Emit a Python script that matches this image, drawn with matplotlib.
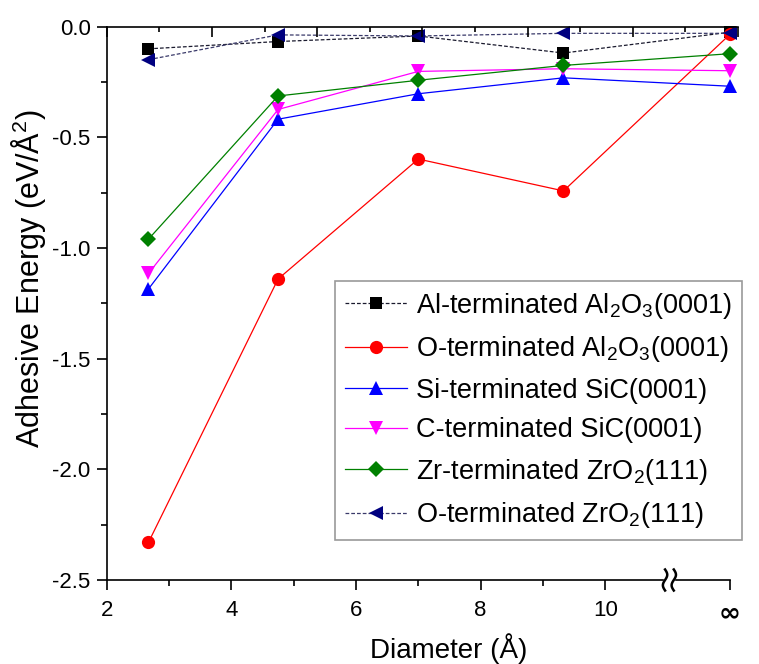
import numpy as np
import matplotlib
matplotlib.use("Agg")
import matplotlib.pyplot as plt
import matplotlib.transforms as mtransforms

plt.rcParams['font.family'] = ['Liberation Sans', 'DejaVu Sans']
plt.rcParams['mathtext.fontset'] = 'custom'
plt.rcParams['mathtext.rm'] = 'Liberation Sans'
plt.rcParams['mathtext.it'] = 'Liberation Sans:italic'
plt.rcParams['mathtext.bf'] = 'Liberation Sans:bold'

# ---- data ----
diameter = [2.67, 4.75, 7.0, 9.33, 12.0]   # last point is "infinity"
al_term_al2o3 = [-0.10, -0.067, -0.042, -0.119, -0.025]
o_term_al2o3 = [-2.33, -1.14, -0.598, -0.742, -0.035]
si_term_sic = [-1.185, -0.418, -0.303, -0.231, -0.269]
c_term_sic = [-1.115, -0.374, -0.202, -0.19, -0.199]
zr_term_zro2 = [-0.96, -0.313, -0.242, -0.175, -0.122]
o_term_zro2 = [-0.149, -0.037, -0.042, -0.030, -0.030]

labels = ['Al-terminated Al$_2$O$_3$(0001)',
          'O-terminated Al$_2$O$_3$(0001)',
          'Si-terminated SiC(0001)',
          'C-terminated SiC(0001)',
          'Zr-terminated ZrO$_2$(111)',
          'O-terminated ZrO$_2$(111)']
x_ticks = [2, 4, 6, 8, 10, 12]
x_ticklabels = ['2', '4', '6', '8', '10', '∞']

fig = plt.figure(figsize=(7.59, 6.64), dpi=100)
ax = fig.add_axes([0.1406, 0.1265, 0.9723 - 0.1406, 0.9598 - 0.1265])

series = [al_term_al2o3, o_term_al2o3, si_term_sic, c_term_sic, zr_term_zro2, o_term_zro2]
colors = ['#000000', '#FF0000', '#0000FF', '#FF00FF', '#008000', '#000080']
markers = ['s', 'o', '^', 'v', 'D', '<']
msizes = [8, 9.5, 10, 10, 8, 10]
styles = ['dash', 'solid', 'solid', 'solid', 'solid', 'dash']

for ys, c, m, ms, st, lab in zip(series, colors, markers, msizes, styles, labels):
    line, = ax.plot(diameter, ys, color=c, marker=m, markersize=ms, lw=0.9,
                    label=lab, clip_on=False, markeredgewidth=0)
    if st == 'dash':
        line.set_color('#1a1a2e' if c == '#000000' else '#3a3a6a')
        line.set_markerfacecolor(c)
        line.set_dashes((3, 1.6))

ax.set_xlim(2, 12.13)
ax.set_ylim(-2.5, 0)

ax.spines['right'].set_visible(False)
ax.spines['bottom'].set_bounds(2, 12)
for s in ['left', 'bottom', 'top']:
    ax.spines[s].set_linewidth(1.2)

ax.set_xticks(x_ticks)
ax.set_xticklabels(x_ticklabels)
ax.set_xticks([3, 5, 7, 9], minor=True)
ax.set_yticks([0, -0.5, -1.0, -1.5, -2.0, -2.5])
ax.set_yticks([-0.25, -0.75, -1.25, -1.75, -2.25], minor=True)
ax.yaxis.set_major_formatter(matplotlib.ticker.FormatStrFormatter('%.1f'))
ax.tick_params(axis='both', which='major', direction='out', length=7.5, width=1.2,
               labelsize=16, top=False, right=False)
ax.tick_params(axis='both', which='minor', direction='out', length=4, width=1.2,
               top=False, right=False)
ax.tick_params(axis='x', pad=7)
ax.tick_params(axis='y', pad=4)
inf_lab = ax.get_xticklabels()[-1]
inf_lab.set_fontfamily('DejaVu Sans')
inf_lab.set_fontweight('bold')
inf_lab.set_fontsize(19)

# top axis ticks
ax2 = ax.twiny()
ax2.set_xlim(ax.get_xlim())
top_pos = np.linspace(2, 12.13, 13)
ax2.set_xticks(top_pos[::2])
ax2.set_xticks(top_pos[1::2], minor=True)
ax2.tick_params(axis='x', which='major', direction='in', length=7.5, width=1.2,
                labeltop=False, top=True, bottom=False)
ax2.tick_params(axis='x', which='minor', direction='in', length=3.5, width=1.2,
                top=True, bottom=False)
for s in ax2.spines.values():
    s.set_visible(False)

ax.set_xlabel('Diameter (Å)', fontsize=20)
ax.xaxis.set_label_coords(0.541, -0.096)
ax.set_ylabel('Adhesive Energy (eV/Å$^2$)', fontsize=22)
ax.yaxis.set_label_coords(-0.093, 0.545)

# axis break symbol on bottom axis
trans = mtransforms.blended_transform_factory(ax.transData, ax.transAxes)
t = np.linspace(-1, 1, 40)
ax.add_patch(plt.Rectangle((10.95, -0.004), 0.16, 0.008, transform=trans,
                           color='white', clip_on=False, zorder=5))
for x0 in (10.96, 11.10):
    ax.plot(x0 + 0.035 * np.sin(np.pi * t), t * 0.019, color='black', lw=1.8,
            transform=trans, clip_on=False, zorder=6)

leg = ax.legend(loc='upper left', bbox_to_anchor=(0.362, 0.540), borderaxespad=0,
                fontsize=19.5, frameon=True, fancybox=False, handlelength=2.3,
                handletextpad=0.35, labelspacing=0.5, borderpad=0.35)
leg.get_frame().set_edgecolor('#808080')
leg.get_frame().set_linewidth(1.2)

fig.savefig('out.png', dpi=100)
